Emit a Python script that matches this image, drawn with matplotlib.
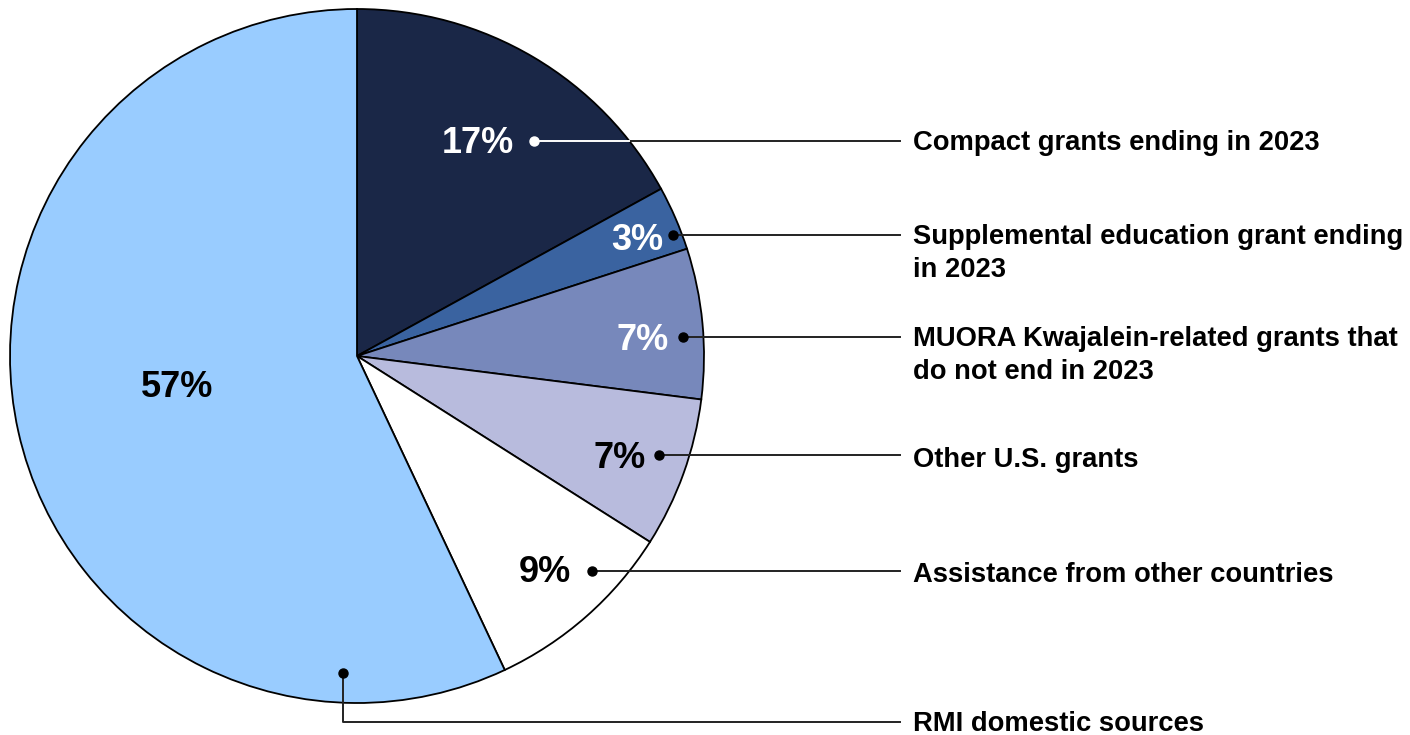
import numpy as np
import matplotlib.pyplot as plt

plt.rcParams['font.family'] = ['Liberation Sans', 'DejaVu Sans']

categories = [
    "Compact grants ending in 2023",
    "Supplemental education grant ending\nin 2023",
    "MUORA Kwajalein-related grants that\ndo not end in 2023",
    "Other U.S. grants",
    "Assistance from other countries",
    "RMI domestic sources",
]
shares = [17, 3, 7, 7, 9, 57]
pct_labels = ["17%", "3%", "7%", "7%", "9%", "57%"]

colors = ["#1A2747", "#3A63A0", "#7788BB", "#B8BBDD", "#FFFFFF", "#99CCFF"]
pct_colors = ["white", "white", "white", "black", "black", "black"]

# layout (pixel coordinates of the 1410x735 canvas)
center = (357, 356)
radius = 347
pct_xy = [(478, 143), (637, 240), (643, 340), (620, 458), (545, 572), (177, 387)]
dot_xy = [(534, 141), (673, 235), (683, 337), (659, 455), (592, 571), (343, 673)]
label_y = [143, 253, 355, 460, 575, 724]
line_end_x = 900
text_x = 913

fig = plt.figure(figsize=(14.1, 7.35), dpi=100)
ax = fig.add_axes([0, 0, 1, 1])

# y is flipped below, so start at -90 and run "counterclockwise" in data
# space, which reads clockwise from the top on screen
ax.pie(shares, colors=colors, startangle=-90, counterclock=True,
       center=center, radius=radius,
       wedgeprops=dict(edgecolor='black', linewidth=1.3))
ax.set_xlim(0, 1410)
ax.set_ylim(735, 0)
ax.set_aspect('equal')
ax.axis('off')

for i, name in enumerate(categories):
    px, py = pct_xy[i]
    ax.text(px, py, pct_labels[i], color=pct_colors[i], fontsize=26,
            fontweight='bold', ha='center', va='center')
    dx, dy = dot_xy[i]
    if i == len(categories) - 1:
        ly = 722
        ax.plot([dx, dx, line_end_x], [dy, ly, ly], color='#222222', lw=1.4, zorder=3)
    else:
        ax.plot([dx, line_end_x], [dy, dy], color='#222222', lw=1.4, zorder=3)
        if i == 0:
            edge_x = center[0] + np.sqrt(radius**2 - (center[1] - dy)**2)
            ax.plot([dx, edge_x], [dy, dy], color='white', lw=1.4, zorder=4)
    ax.plot(dx, dy, 'o', color='white' if i == 0 else 'black', ms=6.5, zorder=5)
    ax.text(text_x, label_y[i], name, fontsize=19.7, fontweight='bold',
            ha='left', va='center', linespacing=1.35)

fig.savefig("out.png", dpi=100)
